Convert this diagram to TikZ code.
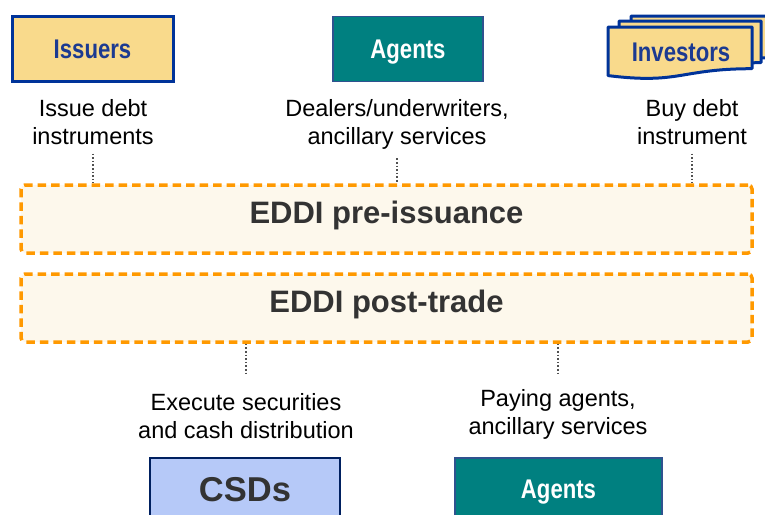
\documentclass[tikz,border=0pt]{standalone}
\usepackage{fontspec}
\usepackage{graphicx}
\setmainfont{Liberation Sans}
\definecolor{issFill}{RGB}{249,218,140}
\definecolor{issBorder}{RGB}{0,51,153}
\definecolor{issText}{RGB}{28,58,145}
\definecolor{tealFill}{RGB}{0,128,128}
\definecolor{tealBorder}{RGB}{47,82,143}
\definecolor{eddiOrange}{RGB}{255,153,0}
\definecolor{eddiFill}{RGB}{253,248,236}
\definecolor{eddiText}{RGB}{51,51,51}
\definecolor{connGray}{RGB}{80,80,80}
\definecolor{csdFill}{RGB}{182,201,248}
\definecolor{csdBorder}{RGB}{0,32,96}
\newcommand{\narrowtxt}[1]{\scalebox{0.82}[1]{#1}}
\newcommand{\docpath}[4]{%
  (#1,#2) -- ({#1+#3},#2) -- ({#1+#3},{#2+0.802*#4})
  .. controls ({#1+0.5*#3},{#2+0.802*#4}) and ({#1+0.5*#3},{#2+1.108*#4}) .. (#1,{#2+0.934*#4}) -- cycle}
\tikzset{
  actorbox/.style={draw=issBorder, line width=3pt, fill=issFill, text=issText,
    font=\fontsize{27}{30}\selectfont\bfseries, text depth=0pt, inner sep=0pt},
  docshape/.style={draw=issBorder, line width=3pt, fill=issFill, line join=round},
  doctext/.style={text=issText, font=\fontsize{27}{30}\selectfont\bfseries, text depth=0pt, inner sep=0pt},
  agentbox/.style={draw=tealBorder, line width=1.5pt, fill=tealFill, text=white,
    font=\fontsize{27}{30}\selectfont\bfseries, text depth=0pt, inner sep=0pt},
  csdbox/.style={draw=csdBorder, line width=2.5pt, fill=csdFill, text=eddiText,
    font=\fontsize{34.5}{38}\selectfont\bfseries, text depth=0pt, inner sep=0pt},
  eddibox/.style={draw=eddiOrange, line width=3.5pt, dash pattern=on 8.5pt off 5pt,
    fill=eddiFill, rounded corners=4pt, text=eddiText,
    font=\fontsize{31}{34}\selectfont\bfseries, text height=22pt, text depth=13pt, inner sep=0pt},
  lbl/.style={font=\fontsize{23.5}{28}\selectfont, align=center, inner sep=0pt, text=black},
  conn/.style={draw=connGray, line width=1.6pt, dotted},
}
\begin{document}
\begin{tikzpicture}[x=1pt,y=-1pt]
\useasboundingbox (0,0) rectangle (765,514);
\clip (0,0) rectangle (765,514);
\fill[white] (0,0) rectangle (765,514);

% top actors
\node[actorbox, minimum width=161pt, minimum height=65pt] (issuers) at (92.5,49) {\narrowtxt{Issuers}};
\node[agentbox, minimum width=150pt, minimum height=65pt] (agentsTop) at (408,49) {\narrowtxt{Agents}};

% investors (stacked documents)
\path[docshape] \docpath{631}{16}{142}{52};
\path[docshape] \docpath{619}{21}{142}{52};
\path[docshape] \docpath{608}{27}{144}{52};
\node[doctext] (investors) at (681,52) {\narrowtxt{Investors}};

% top labels
\node[lbl, anchor=north] (t1) at (93,99) {Issue debt\\instruments};
\node[lbl, anchor=north] (t2) at (397,99) {Dealers/underwriters,\\ancillary services};
\node[lbl, anchor=north] (t3) at (692,99) {Buy debt\\instrument};

% EDDI boxes
\node[eddibox, minimum width=731pt, minimum height=68pt] (pre) at (386.5,219) {EDDI pre-issuance};
\node[eddibox, minimum width=731pt, minimum height=68pt] (post) at (386.5,308) {EDDI post-trade};

% bottom labels
\node[lbl, anchor=north] (b1) at (246,393) {Execute securities\\and cash distribution};
\node[lbl, anchor=north] (b2) at (558,389) {Paying agents,\\ancillary services};

% bottom actors
\node[csdbox, minimum width=190pt, minimum height=62pt] (csds) at (245,489) {CSDs};
\node[agentbox, minimum width=207pt, minimum height=62pt] (agentsBot) at (558.5,489) {\narrowtxt{Agents}};

% connectors
\draw[conn, shorten <=9pt] (t1.south) -- (t1.south |- pre.north);
\draw[conn, shorten <=9pt] (t2.south) -- (t2.south |- pre.north);
\draw[conn, shorten <=9pt] (t3.south) -- (t3.south |- pre.north);
\draw[conn, shorten >=18pt] (b1.north |- post.south) -- (b1.north);
\draw[conn, shorten >=14pt] (b2.north |- post.south) -- (b2.north);
\end{tikzpicture}
\end{document}
